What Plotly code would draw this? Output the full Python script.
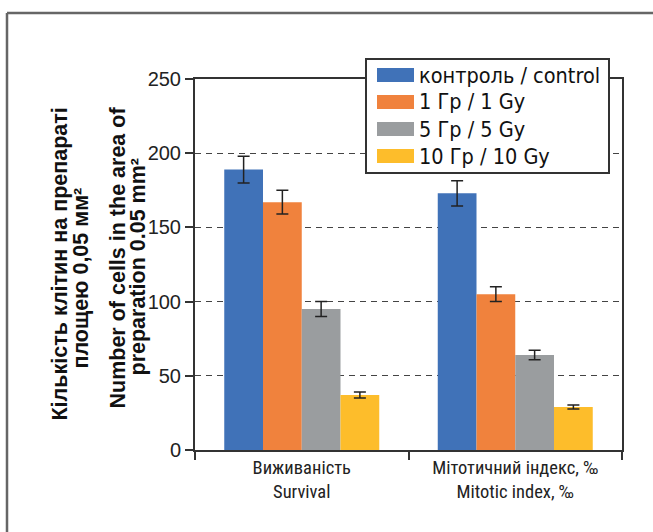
import plotly.graph_objects as go

categories = ["Виживаність<br>Survival", "Мітотичний індекс, ‰<br>Mitotic index, ‰"]
series_names = ["контроль / control", "1 Гр / 1 Gy", "5 Гр / 5 Gy", "10 Гр / 10 Gy"]
control = [189, 173]
gy1 = [167, 105]
gy5 = [95, 64]
gy10 = [37, 29]
control_err = [9, 8.5]
gy1_err = [8, 5]
gy5_err = [5, 3.2]
gy10_err = [2, 1.4]
y_ticks = [0, 50, 100, 150, 200, 250]
y_title_lines = ["Кількість клітин на препараті", "площею 0,05 мм²",
                 "Number of cells in the area of", "preparation 0.05 mm²"]

colors = ["#4072b8", "#f0823d", "#9a9d9f", "#fdbd2b"]

W, H = 653, 532
L, R, T, B = 195, 31, 79, 82
PW, PH = W - L - R, H - T - B

def px(x):
    return (x - L) / PW

def py(y):
    return (H - B - y) / PH

NARROW = "Liberation Sans Narrow, Arial Narrow, Roboto Condensed, DejaVu Sans Condensed, sans-serif"
REG = "Liberation Sans, Arial, sans-serif"
LEG = "DejaVu Sans Condensed, Liberation Sans Narrow, Roboto Condensed, sans-serif"

fig = go.Figure()
for name, vals, errs, c in zip(series_names, [control, gy1, gy5, gy10],
                               [control_err, gy1_err, gy5_err, gy10_err], colors):
    fig.add_trace(go.Bar(
        x=categories, y=vals, name=name, marker=dict(color=c, line=dict(width=0)),
        error_y=dict(type="data", array=errs, visible=True, color="#222", thickness=1.5, width=6),
        showlegend=False,
    ))

shapes = []
# outer frame
shapes.append(dict(type="line", xref="paper", yref="paper", x0=px(7), x1=px(7), y0=py(H + 5), y1=py(13),
                   line=dict(color="#666", width=2.5), layer="above"))
shapes.append(dict(type="line", xref="paper", yref="paper", x0=px(7), x1=px(W + 5), y0=py(13), y1=py(13),
                   line=dict(color="#666", width=2.5), layer="above"))
# legend box
shapes.append(dict(type="rect", xref="paper", yref="paper", x0=px(366), x1=px(609), y0=py(173), y1=py(59),
                   line=dict(color="#333", width=2), fillcolor="white", layer="above"))
annotations = []
for i, (name, c) in enumerate(zip(series_names, colors)):
    top = 68 + 27 * i
    shapes.append(dict(type="rect", xref="paper", yref="paper", x0=px(377), x1=px(414), y0=py(top + 14), y1=py(top),
                       line=dict(width=0), fillcolor=c, layer="above"))
    annotations.append(dict(xref="paper", yref="paper", x=px(417), y=py(top + 7), xanchor="left", yanchor="middle",
                            text=name, showarrow=False, font=dict(family=LEG, size=21.5, color="#111")))

# y-axis title, one annotation per line
title_pos = [(59.5, 264), (80.5, 278), (117.5, 258), (137.5, 267)]
for text, (cx, cy) in zip(y_title_lines, title_pos):
    annotations.append(dict(xref="paper", yref="paper", x=px(cx), y=py(cy), xanchor="center", yanchor="middle",
                            text=text, textangle=-90, showarrow=False,
                            font=dict(family=REG, size=21.5, color="#111", weight="bold")))

fig.update_layout(
    width=W, height=H,
    margin=dict(l=L, r=R, t=T, b=B, pad=0, autoexpand=False),
    paper_bgcolor="white", plot_bgcolor="white",
    barmode="group", bargap=0.274, bargroupgap=0,
    shapes=shapes, annotations=annotations,
    font=dict(family=NARROW, color="#222"),
)
fig.update_xaxes(
    automargin=False,
    showline=True, linecolor="#333", linewidth=2, mirror=True,
    ticks="outside", tickson="boundaries", ticklen=8, tickcolor="#333", tickwidth=1.5,
    tickfont=dict(family=NARROW, size=18.5, color="#222"),
    showgrid=False,
)
fig.update_yaxes(
    automargin=False,
    range=[0, 250], tickvals=y_ticks,
    showline=True, linecolor="#333", linewidth=2, mirror=True,
    ticks="outside", ticklen=8, tickcolor="#333", tickwidth=1.5,
    tickfont=dict(family=REG, size=20, color="#222"),
    showgrid=True, gridcolor="#444", gridwidth=1, griddash="6px,5px",
    zeroline=False,
)
fig.write_html("out.html", config={"displayModeBar": False},
               post_script="document.body.style.margin='0';document.body.style.overflow='hidden';")
